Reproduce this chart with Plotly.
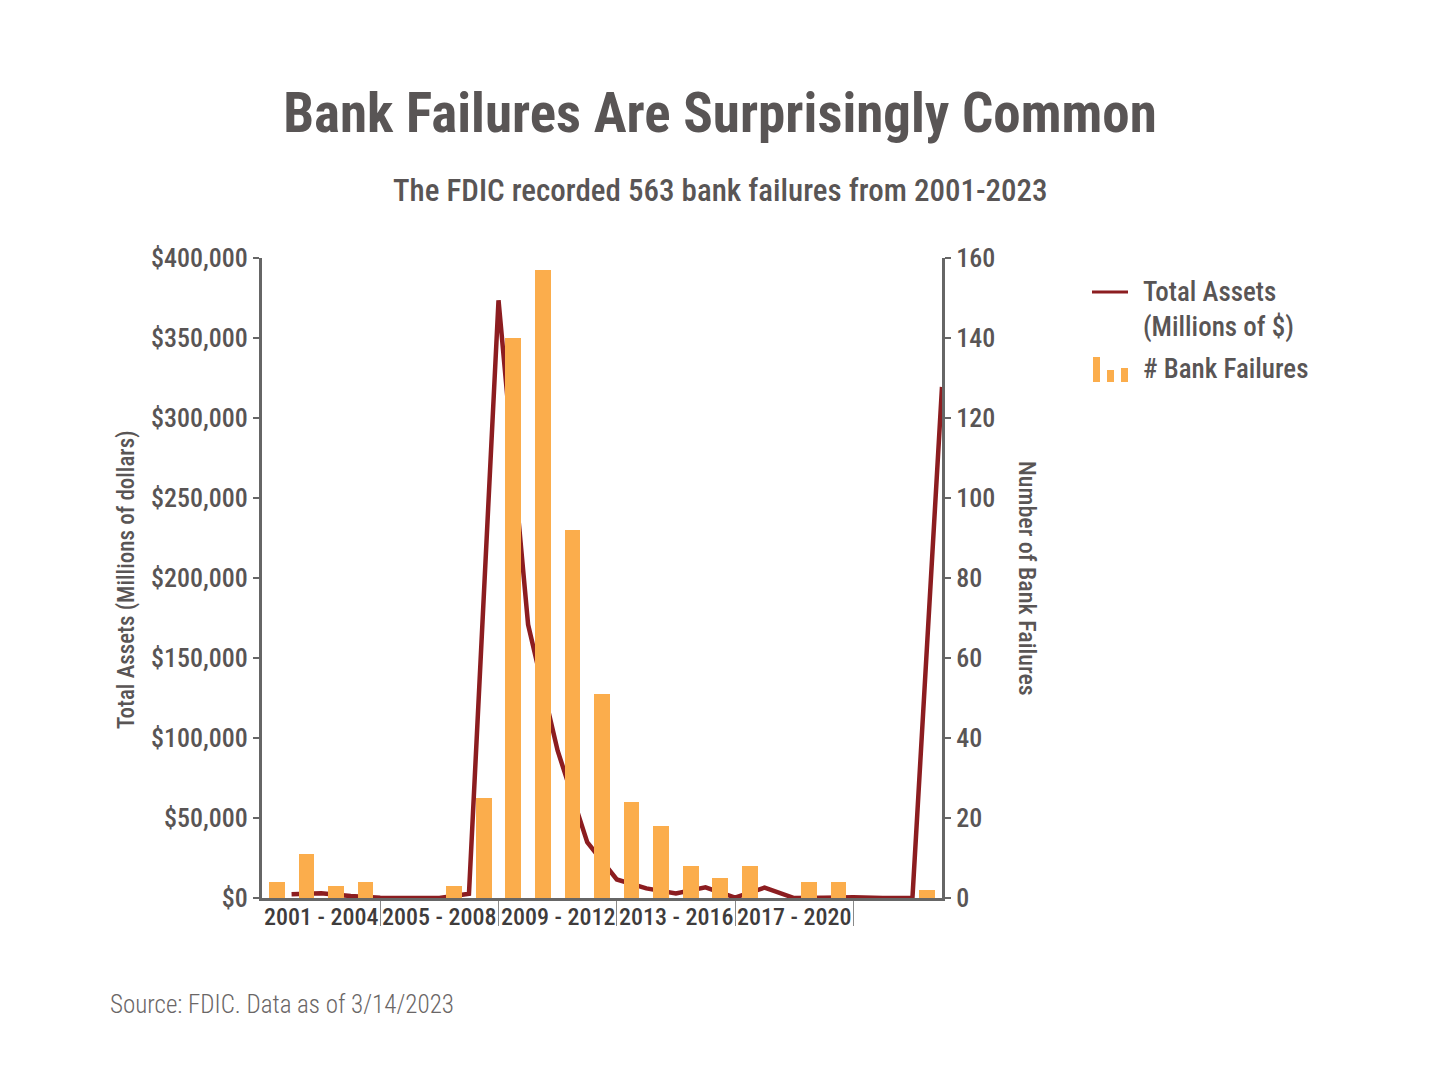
import plotly.graph_objects as go

# ---------------- data ----------------
years = list(range(2001, 2024))
bank_failures = [4, 11, 3, 4, 0, 0, 3, 25, 140, 157, 92, 51, 24, 18, 8, 5, 8, 0, 4, 4, 0, 0, 2]
total_assets = [2300, 2900, 1200, 200, 0, 0, 2600, 373600, 170900, 92100, 34900, 11600,
                6000, 2900, 6700, 300, 6500, 0, 200, 500, 0, 0, 319400]
group_labels = ["2001 - 2004", "2005 - 2008", "2009 - 2012", "2013 - 2016", "2017 - 2020"]
left_ticks = [0, 50000, 100000, 150000, 200000, 250000, 300000, 350000, 400000]
right_ticks = [0, 20, 40, 60, 80, 100, 120, 140, 160]

# ---------------- style ----------------
W, H = 1440, 1080
OFF = 8  # page body margin
PL, PR, PT, PB = 262, 942, 258, 898   # plot area in page pixels
TXT = "#595555"
AX = "#666666"
BAR = "#FBAD4C"
LINE = "#8C1D20"
FONT = "Roboto Condensed, Roboto, sans-serif"


def px_x(px):
    return (px - PL) / (PR - PL)


def px_y(py):
    return (PB - py) / (PB - PT)


idx = list(range(len(years)))

fig = go.Figure()
fig.add_trace(go.Bar(
    x=idx, y=bank_failures, yaxis="y2", width=0.53,
    marker=dict(color=BAR, line=dict(width=0)),
    name="# Bank Failures", showlegend=False,
))
fig.add_trace(go.Scatter(
    x=[i + 0.5 for i in idx], y=total_assets, mode="lines",
    line=dict(color=LINE, width=4.5), cliponaxis=False,
    name="Total Assets (Millions of $)", showlegend=False,
))

bounds = [g * 4 + 3.5 for g in range(len(group_labels))]
centres = [g * 4 + 1.5 for g in range(len(group_labels))]

fig.update_layout(
    width=W, height=H,
    paper_bgcolor="white", plot_bgcolor="white",
    margin=dict(l=PL - OFF, r=W - (PR - OFF), t=PT - OFF, b=H - (PB - OFF), pad=0),
    font=dict(family=FONT, color=TXT),
    bargap=0,
    title=dict(
        text="<b>Bank Failures Are Surprisingly Common</b>",
        x=(720 - OFF) / W, xref="container", xanchor="center",
        y=1 - (113 - OFF) / H, yref="container", yanchor="middle",
        font=dict(size=55, color=TXT, family=FONT),
    ),
    xaxis=dict(
        range=[-0.5, 22.5], showgrid=False, zeroline=False,
        showline=True, linecolor=AX, linewidth=3,
        tickmode="array", tickvals=bounds, ticks="outside", ticklen=25,
        tickwidth=1, tickcolor="#8a8a8a", showticklabels=False,
    ),
    yaxis=dict(
        range=[0, 400000], showgrid=False, zeroline=False,
        showline=True, linecolor=AX, linewidth=3,
        tickmode="array", tickvals=left_ticks,
        ticktext=["$" + format(v, ",") for v in left_ticks],
        ticks="outside", ticklen=6, tickwidth=2, tickcolor=AX,
        tickfont=dict(size=26, color=TXT, family=FONT, weight=500),
    ),
    yaxis2=dict(
        range=[0, 160], overlaying="y", side="right", showgrid=False, zeroline=False,
        showline=True, linecolor=AX, linewidth=3,
        tickmode="array", tickvals=right_ticks,
        ticks="outside", ticklen=6, tickwidth=2, tickcolor=AX,
        tickfont=dict(size=26, color=TXT, family=FONT, weight=500),
    ),
)

ann = []
ann.append(dict(text="The FDIC recorded 563 bank failures from 2001-2023",
                x=px_x(720), y=px_y(190), xref="paper", yref="paper",
                xanchor="center", yanchor="middle", showarrow=False,
                font=dict(size=31, color=TXT, weight=500)))
ann.append(dict(text="Total Assets (Millions of dollars)", textangle=-90,
                x=px_x(126), y=px_y(580), xref="paper", yref="paper",
                xanchor="center", yanchor="middle", showarrow=False,
                font=dict(size=23, color=TXT, weight=500)))
ann.append(dict(text="Number of Bank Failures", textangle=90,
                x=px_x(1027), y=px_y(578), xref="paper", yref="paper",
                xanchor="center", yanchor="middle", showarrow=False,
                font=dict(size=24, color=TXT, weight=500)))
for c, lab in zip(centres, group_labels):
    ann.append(dict(text=lab, x=c, y=px_y(917), xref="x", yref="paper",
                    xanchor="center", yanchor="middle", showarrow=False,
                    font=dict(size=24, color="#3f3c3c", weight=500)))
ann.append(dict(text="Source: FDIC. Data as of 3/14/2023",
                x=px_x(108), y=px_y(1004), xref="paper", yref="paper",
                xanchor="left", yanchor="middle", showarrow=False,
                font=dict(size=25, color="#6a6666", weight=300)))
# legend texts
ann.append(dict(text="Total Assets<br>(Millions of $)", align="left",
                x=px_x(1141), y=px_y(309), xref="paper", yref="paper",
                xanchor="left", yanchor="middle", showarrow=False,
                font=dict(size=27, color=TXT, weight=500)))
ann.append(dict(text="# Bank Failures",
                x=px_x(1141), y=px_y(369), xref="paper", yref="paper",
                xanchor="left", yanchor="middle", showarrow=False,
                font=dict(size=27, color=TXT, weight=500)))
fig.update_layout(annotations=ann)

shapes = []
shapes.append(dict(type="line", xref="paper", yref="paper",
                   x0=px_x(1092), x1=px_x(1128), y0=px_y(292), y1=px_y(292),
                   line=dict(color=LINE, width=3)))
for x0, x1, ytop in [(1093, 1100, 357), (1107, 1114, 370), (1121, 1128, 368)]:
    shapes.append(dict(type="rect", xref="paper", yref="paper",
                       x0=px_x(x0), x1=px_x(x1), y0=px_y(382), y1=px_y(ytop),
                       line=dict(width=0), fillcolor=BAR))
fig.update_layout(shapes=shapes)

fig.write_html("out.html")
